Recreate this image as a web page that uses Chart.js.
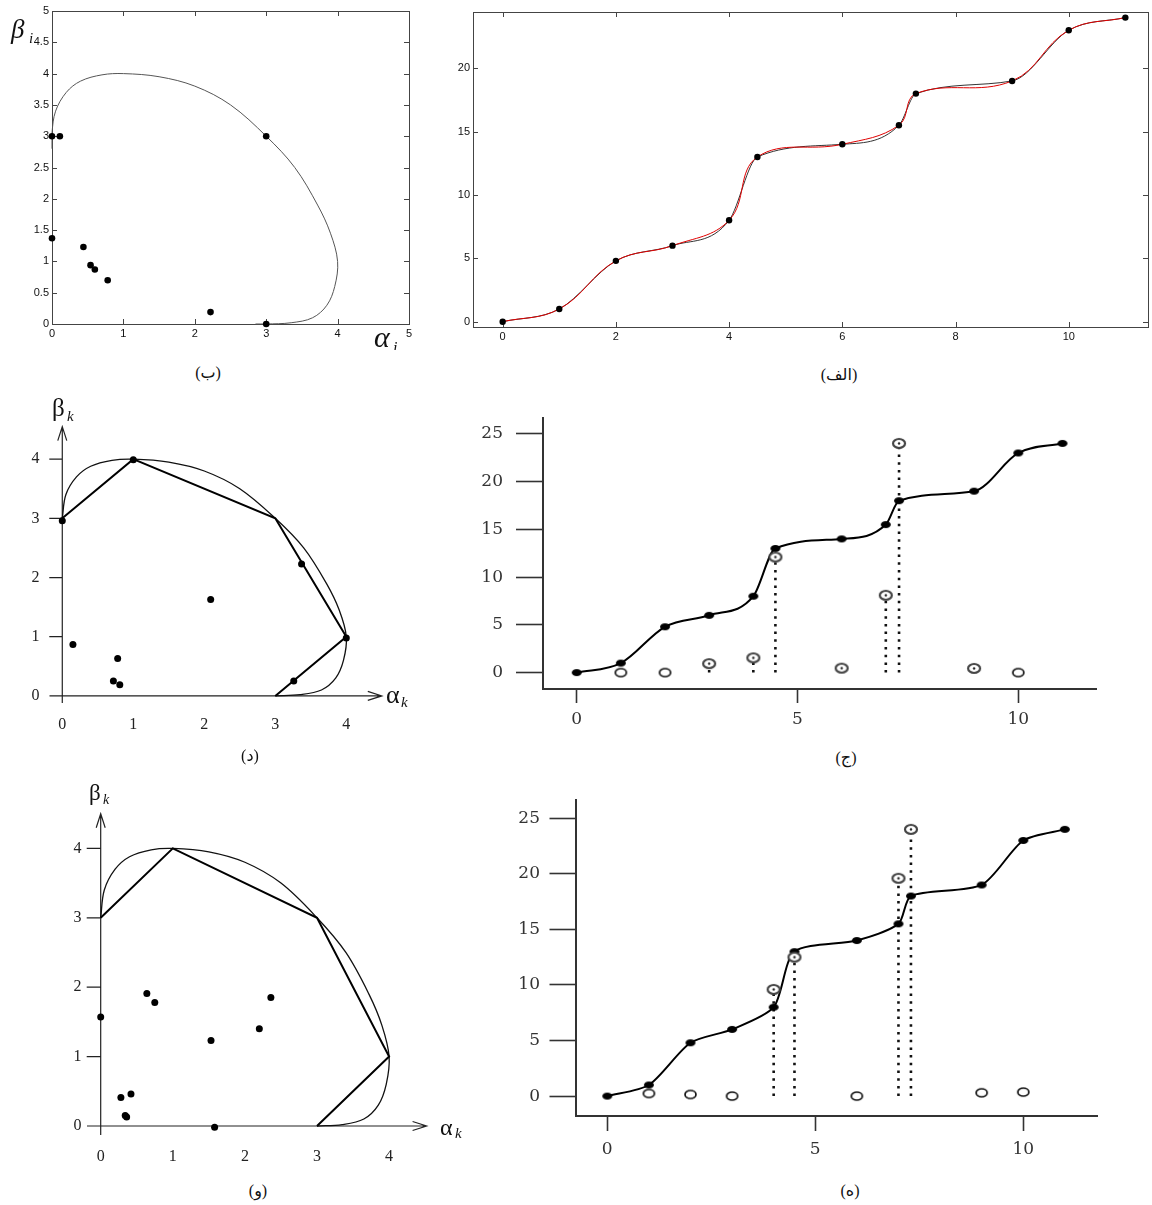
<!DOCTYPE html>
<html>
<head>
<meta charset="utf-8">
<script src="https://cdn.jsdelivr.net/npm/chart.js@4.4.1/dist/chart.umd.min.js"></script>
<style>
  body { margin: 0; background: #fff; }
  #page { position: relative; width: 1152px; height: 1205px; overflow: hidden; background: #fff; }
  canvas { position: absolute; }
  .cap { position: absolute; transform: translate(-50%, -50%); font: 16px "Liberation Serif", "DejaVu Sans", serif; color: #111; white-space: nowrap; }
</style>
</head>
<body>
<div id="page">
  <canvas id="cB" width="420" height="350" style="left:0px;top:0px"></canvas>
  <canvas id="cA" width="722" height="350" style="left:430px;top:0px"></canvas>
  <canvas id="cD" width="420" height="360" style="left:0px;top:390px"></canvas>
  <canvas id="cJ" width="712" height="345" style="left:440px;top:395px"></canvas>
  <canvas id="cW" width="480" height="400" style="left:0px;top:775px"></canvas>
  <canvas id="cH" width="692" height="390" style="left:460px;top:780px"></canvas>

  <div class="cap" style="left:208px;top:372px">(ب)</div>
  <div class="cap" style="left:839px;top:374px">(الف)</div>
  <div class="cap" style="left:250px;top:755px">(د)</div>
  <div class="cap" style="left:846px;top:757px">(ج)</div>
  <div class="cap" style="left:258px;top:1190px">(و)</div>
  <div class="cap" style="left:850px;top:1190px">(ه)</div>
</div>

<script>
// interpolation nodes shared by (الف), (ج), (ه)
const knotX = [0, 1, 2, 3, 4, 4.5, 6, 7, 7.3, 9, 10, 11];
const knotY = [0, 1, 4.8, 6, 8, 13, 14, 15.5, 18, 19, 23, 24];

// (ب) boundary curve and points
const bArcX = [0, 0, 0.05, 0.2, 0.4, 0.7, 1, 1.5, 2, 2.5, 3, 3.4, 3.72, 3.9, 4, 3.96, 3.85, 3.65, 3.35, 3, 2.85];
const bArcY = [2.8, 3.05, 3.4, 3.7, 3.88, 3.98, 4, 3.95, 3.8, 3.5, 3, 2.5, 1.9, 1.45, 1, 0.6, 0.3, 0.1, 0.02, 0, 0];
const bDotX = [0, 0.11, 0, 0.44, 0.54, 0.6, 0.78, 2.22, 3, 3];
const bDotY = [3, 3, 1.37, 1.23, 0.94, 0.87, 0.7, 0.19, 3, 0];

// (د) and (و) hull polygon and boundary curve
const hullX = [0, 1, 3, 4, 3];
const hullY = [3, 4, 3, 1, 0];
const arcX = [0, 0.05, 0.2, 0.4, 0.7, 1, 1.5, 2, 2.5, 3, 3.4, 3.72, 3.9, 4, 3.96, 3.85, 3.65, 3.35, 3];
const arcY = [3, 3.4, 3.7, 3.88, 3.98, 4, 3.95, 3.8, 3.5, 3, 2.5, 1.9, 1.45, 1, 0.6, 0.3, 0.1, 0.02, 0];
const dDotX = [0, 1, 4, 3.37, 3.26, 2.09, 0.15, 0.78, 0.72, 0.81];
const dDotY = [2.96, 3.99, 0.98, 2.23, 0.25, 1.63, 0.87, 0.63, 0.25, 0.19];
const wDotX = [0, 0.64, 0.75, 2.36, 2.2, 1.53, 0.28, 0.42, 0.36, 0.34, 1.58];
const wDotY = [1.57, 1.91, 1.78, 1.85, 1.4, 1.23, 0.41, 0.46, 0.13, 0.15, -0.02];

// (ج) residual markers and stems
const jOpenX = [1, 2, 10];
const jOpenY = [0, 0, 0];
const jRingX = [3, 4, 4.5, 6, 7, 7.3, 9];
const jRingY = [0.94, 1.55, 12.1, 0.47, 8.1, 24, 0.44];
const jStemX = [3, 4, 4.5, 7, 7.3];
const jStemTop = [0.9, 1.5, 12.1, 8.1, 24];

// (ه) residual markers and stems
const hOpenX = [1, 2, 3, 6, 9, 10];
const hOpenY = [0.24, 0.15, 0, 0, 0.3, 0.36];
const hRingX = [4, 4.5, 7, 7.3];
const hRingY = [9.6, 12.5, 19.6, 24];
const hStemX = [4, 4.5, 7, 7.3];
const hStemTop = [9.6, 12.5, 19.6, 24];

const pts = (xs, ys) => xs.map((x, i) => ({ x: x, y: ys[i] }));

function marker(w, h, kind) {
    const c = document.createElement('canvas');
    c.width = w + 4;
    c.height = h + 4;
    const g = c.getContext('2d');
    const cx = c.width / 2, cy = c.height / 2;
    g.beginPath();
    g.ellipse(cx, cy, w / 2, h / 2, 0, 0, Math.PI * 2);
    if (kind === 'fill') {
        g.fillStyle = '#000';
        g.fill();
        return c;
    }
    g.fillStyle = '#fff';
    g.fill();
    g.lineWidth = kind === 'ring' ? 2.2 : 1.7;
    g.strokeStyle = kind === 'ring' ? '#444' : '#111';
    g.stroke();
    if (kind === 'ring') {
        g.beginPath();
        g.arc(cx, cy, 1.2, 0, Math.PI * 2);
        g.fillStyle = '#222';
        g.fill();
    }
    return c;
}

const dotJ = marker(10, 7, 'fill');
const openJ = marker(11, 8, 'open');
const ringJ = marker(12, 9, 'ring');

// MATLAB style frame with inward ticks
const boxFrame = {
    id: 'boxFrame',
    beforeDatasetsDraw(chart) {
        const { ctx, chartArea: a, scales: { x, y } } = chart;
        ctx.save();
        ctx.strokeStyle = '#444';
        ctx.lineWidth = 1;
        ctx.strokeRect(a.left + 0.5, a.top + 0.5, a.right - a.left, a.bottom - a.top);
        ctx.beginPath();
        x.ticks.forEach(t => {
            const px = Math.round(x.getPixelForValue(t.value)) + 0.5;
            ctx.moveTo(px, a.bottom); ctx.lineTo(px, a.bottom - 5);
            ctx.moveTo(px, a.top); ctx.lineTo(px, a.top + 5);
        });
        y.ticks.forEach(t => {
            const py = Math.round(y.getPixelForValue(t.value)) + 0.5;
            ctx.moveTo(a.left, py); ctx.lineTo(a.left + 5, py);
            ctx.moveTo(a.right, py); ctx.lineTo(a.right - 5, py);
        });
        ctx.stroke();
        ctx.restore();
    }
};

// axes through the origin with open arrow heads
const arrowAxes = {
    id: 'arrowAxes',
    beforeDatasetsDraw(chart, args, opts) {
        const { ctx, chartArea: a, scales: { x, y } } = chart;
        const x0 = x.getPixelForValue(0), y0 = y.getPixelForValue(0);
        ctx.save();
        ctx.strokeStyle = '#222';
        ctx.lineWidth = 1.2;
        ctx.beginPath();
        ctx.moveTo(a.left, y0); ctx.lineTo(a.right, y0);
        ctx.moveTo(x0, a.bottom); ctx.lineTo(x0, a.top);
        ctx.moveTo(a.right - 14, y0 - 4.5); ctx.lineTo(a.right, y0); ctx.lineTo(a.right - 14, y0 + 4.5);
        ctx.moveTo(x0 - 4.5, a.top + 14); ctx.lineTo(x0, a.top); ctx.lineTo(x0 + 4.5, a.top + 14);
        y.ticks.forEach(t => {
            if (t.value <= 0) return;
            const py = y.getPixelForValue(t.value);
            ctx.moveTo(x0 - opts.tick, py); ctx.lineTo(x0, py);
        });
        ctx.stroke();
        ctx.restore();
    }
};

// axis symbols drawn on the canvas
const canvasText = {
    id: 'canvasText',
    afterDraw(chart, args, opts) {
        const ctx = chart.ctx;
        ctx.save();
        ctx.fillStyle = '#111';
        ctx.textBaseline = 'alphabetic';
        (opts.items || []).forEach(it => {
            ctx.font = it.font;
            ctx.fillText(it.text, it.x, it.y);
        });
        ctx.restore();
    }
};

function fitTo(size, horiz) {
    return s => { if (horiz) s.height = size; else s.width = size; };
}

function matlabAxis(min, max, step, size, horiz) {
    return {
        type: 'linear', min: min, max: max,
        grid: { display: false, drawTicks: false },
        border: { display: false },
        ticks: { stepSize: step, includeBounds: false, padding: 3, color: '#111', autoSkip: false, maxRotation: 0,
                 font: { family: 'Liberation Sans', size: 11 },
                 callback: v => String(v) },
        afterFit: fitTo(size, horiz)
    };
}

function arrowAxis(min, max, size, horiz, pad) {
    return {
        type: 'linear', min: min, max: max,
        grid: { display: false, drawTicks: false },
        border: { display: false },
        ticks: { stepSize: 1, includeBounds: false, padding: pad, color: '#222', autoSkip: false, maxRotation: 0,
                 font: { family: 'Liberation Serif', size: 16 } },
        afterFit: fitTo(size, horiz)
    };
}

function rAxis(min, max, step, size, horiz, tick, pad) {
    return {
        type: 'linear', min: min, max: max,
        grid: { display: true, drawOnChartArea: false, drawTicks: true, tickLength: tick, color: '#333', tickWidth: 1.6 },
        border: { display: true, color: '#333', width: 2 },
        ticks: { stepSize: step, includeBounds: false, padding: pad, color: '#333', autoSkip: false, maxRotation: 0,
                 font: { family: 'DejaVu Serif', size: 17 } },
        afterFit: fitTo(size, horiz)
    };
}

function options(padding, x, y, extra) {
    return {
        responsive: false,
        animation: false,
        events: [],
        layout: { padding: padding },
        plugins: Object.assign({ legend: { display: false }, tooltip: { enabled: false } }, extra || {}),
        scales: { x: x, y: y }
    };
}

function stems(xs, tops) {
    return xs.map((x, i) => ({
        data: [{ x: x, y: 0 }, { x: x, y: tops[i] }],
        showLine: true, pointRadius: 0, borderColor: '#111', borderWidth: 2.6,
        borderDash: [2.5, 5.2], borderCapStyle: 'butt', order: 6, clip: false
    }));
}

// (ب)
new Chart(document.getElementById('cB'), {
    type: 'scatter',
    data: { datasets: [
        { data: pts(bArcX, bArcY), showLine: true, tension: 0.35, borderColor: '#555', borderWidth: 1, pointRadius: 0, clip: false, order: 2 },
        { data: pts(bDotX, bDotY), pointRadius: 3.3, backgroundColor: '#000', borderWidth: 0, clip: false, order: 1 }
    ]},
    options: options({ top: 11, right: 11, left: 0, bottom: 0 },
        matlabAxis(0, 5, 1, 26, true), matlabAxis(0, 5, 0.5, 52, false),
        { canvasText: { items: [
            { text: 'β', x: 11, y: 38, font: 'italic 27px "Liberation Serif"' },
            { text: 'i', x: 29, y: 43, font: 'italic 15px "Liberation Serif"' },
            { text: 'α', x: 374, y: 347, font: 'italic 30px "Liberation Serif"' },
            { text: 'i', x: 393, y: 353, font: 'italic 16px "Liberation Serif"' }
        ] } }),
    plugins: [boxFrame, canvasText]
});

// (الف)
new Chart(document.getElementById('cA'), {
    type: 'scatter',
    data: { datasets: [
        { data: pts(knotX, knotY), showLine: true, cubicInterpolationMode: 'monotone', borderColor: '#333', borderWidth: 1, pointRadius: 0, order: 3 },
        { data: pts(knotX, knotY), showLine: true, tension: 0.4, borderColor: '#e00000', borderWidth: 1, pointRadius: 0, order: 2 },
        { data: pts(knotX, knotY), pointRadius: 3.2, backgroundColor: '#000', borderWidth: 0, clip: false, order: 1 }
    ]},
    options: options({ top: 12, right: 3, left: 0, bottom: 0 },
        matlabAxis(-0.524, 11.40, 2, 23, true), matlabAxis(-0.42, 24.44, 5, 43, false)),
    plugins: [boxFrame]
});

// (د)
new Chart(document.getElementById('cD'), {
    type: 'scatter',
    data: { datasets: [
        { data: pts(arcX, arcY), showLine: true, tension: 0.35, borderColor: '#111', borderWidth: 1.3, pointRadius: 0, clip: false, order: 3 },
        { data: pts(hullX, hullY), showLine: true, tension: 0, borderColor: '#000', borderWidth: 2, pointRadius: 0, clip: false, order: 2 },
        { data: pts(dDotX, dDotY), pointRadius: 3.5, backgroundColor: '#000', borderWidth: 0, clip: false, order: 1 }
    ]},
    options: options({ top: 36.6, right: 38.2, left: 0, bottom: 0 },
        arrowAxis(-0.18, 4.5, 47, true, 12), arrowAxis(-0.12, 4.55, 49.5, false, 10),
        { arrowAxes: { tick: 13 },
          canvasText: { items: [
            { text: 'β', x: 52, y: 26, font: '25px "Liberation Serif"' },
            { text: 'k', x: 67, y: 31, font: 'italic 15px "Liberation Serif"' },
            { text: 'α', x: 386, y: 313, font: '26px "Liberation Serif"' },
            { text: 'k', x: 401, y: 317, font: 'italic 15px "Liberation Serif"' }
          ] } }),
    plugins: [arrowAxes, canvasText]
});

// (ج)
new Chart(document.getElementById('cJ'), {
    type: 'scatter',
    data: { datasets: [
        ...stems(jStemX, jStemTop),
        { data: pts(knotX, knotY), showLine: true, cubicInterpolationMode: 'monotone', borderColor: '#000', borderWidth: 2,
          pointStyle: dotJ, pointRadius: 4, clip: false, order: 3 },
        { data: pts(jOpenX, jOpenY), pointStyle: openJ, pointRadius: 5, clip: false, order: 2 },
        { data: pts(jRingX, jRingY), pointStyle: ringJ, pointRadius: 5, clip: false, order: 1 }
    ]},
    options: options({ top: 13, right: 56, left: 0, bottom: 0 },
        rAxis(-0.763, 11.76, 5, 51, true, 14, 6), rAxis(-1.715, 26.64, 5, 103, false, 27, 13)),
    plugins: []
});

// (و)
new Chart(document.getElementById('cW'), {
    type: 'scatter',
    data: { datasets: [
        { data: pts(arcX, arcY), showLine: true, tension: 0.35, borderColor: '#111', borderWidth: 1.3, pointRadius: 0, clip: false, order: 3 },
        { data: pts(hullX, hullY), showLine: true, tension: 0, borderColor: '#000', borderWidth: 2, pointRadius: 0, clip: false, order: 2 },
        { data: pts(wDotX, wDotY), pointRadius: 3.5, backgroundColor: '#000', borderWidth: 0, clip: false, order: 1 }
    ]},
    options: options({ top: 38.7, right: 53.4, left: 0, bottom: 0 },
        arrowAxis(-0.19, 4.52, 40, true, 12), arrowAxis(-0.13, 4.5, 87, false, 5.5),
        { arrowAxes: { tick: 14 },
          canvasText: { items: [
            { text: 'β', x: 89, y: 25, font: '23px "Liberation Serif"' },
            { text: 'k', x: 103, y: 29, font: 'italic 14px "Liberation Serif"' },
            { text: 'α', x: 440, y: 360, font: '24px "Liberation Serif"' },
            { text: 'k', x: 455, y: 363, font: 'italic 15px "Liberation Serif"' }
          ] } }),
    plugins: [arrowAxes, canvasText]
});

// (ه)
new Chart(document.getElementById('cH'), {
    type: 'scatter',
    data: { datasets: [
        ...stems(hStemX, hStemTop),
        { data: pts(knotX, knotY), showLine: true, tension: 0.25, borderColor: '#000', borderWidth: 2,
          pointStyle: dotJ, pointRadius: 4, clip: false, order: 3 },
        { data: pts(hOpenX, hOpenY), pointStyle: openJ, pointRadius: 5, clip: false, order: 2 },
        { data: pts(hRingX, hRingY), pointStyle: ringJ, pointRadius: 5, clip: false, order: 1 }
    ]},
    options: options({ top: 17.3, right: 54.7, left: 0, bottom: 0 },
        rAxis(-0.764, 11.78, 5, 54, true, 15, 8), rAxis(-1.79, 26.67, 5, 115.5, false, 26, 9.5)),
    plugins: []
});
</script>
</body>
</html>
